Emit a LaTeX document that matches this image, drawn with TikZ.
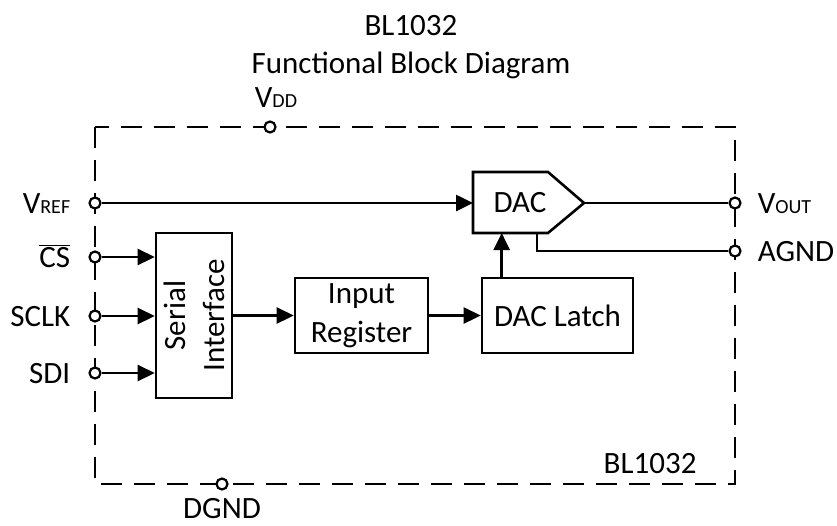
\documentclass[tikz,border=0pt]{standalone}
\usepackage{fontspec}
\setmainfont{Carlito}
\usetikzlibrary{arrows.meta, positioning}
\newcommand{\pinsub}[1]{{\fontsize{20}{20}\selectfont #1}}

\begin{document}
\begin{tikzpicture}[x=1pt, y=-1pt,
  font=\fontsize{31}{39}\selectfont,
  wire/.style={line width=2.6pt},
  arr/.style={line width=2.6pt, -{Triangle[length=17pt,width=16pt]}},
  block/.style={draw, line width=2.6pt, inner sep=0pt},
  pin/.style={draw, circle, fill=white, line width=2.2pt, minimum size=11pt, inner sep=0pt},
  pinlbl/.style={text height=20pt, text depth=0pt, inner sep=0pt}]
\useasboundingbox (0,0) rectangle (837,525);

% chip outline
\draw[line width=2.8pt, dash pattern=on 21pt off 12pt] (95,127) rectangle (735,484);

\node[anchor=base] (title) at (411,35) {BL1032};
\node[anchor=base] (subtitle) at (411,73) {Functional Block Diagram};
\node[anchor=base east] (chipname) at (700,473) {BL1032};

% blocks
\node[block, minimum width=76pt, minimum height=165pt] (serial) at (194,315.5) {};
\node[rotate=90, align=center] (serialtxt) at (serial) {Serial\\Interface};
\node[block, minimum width=133pt, minimum height=75pt, align=center] (inreg) at (361.5,315.5) {Input\\Register};
\node[block, minimum width=151pt, minimum height=75pt] (latch) at (557.5,315.5) {DAC Latch};
\draw[wire] (473,172) coordinate (dacnw) -- (548,172) -- (584,203) coordinate (dactip)
  -- (548,233) -- (473,233) coordinate (dacsw) -- cycle;
\node (dac) at (520,203) {DAC};

% pins
\node[pin] (vdd) at (270,127) {};
\node[pin] (dgnd) at (222,484) {};
\node[pin] (vref) at (95,203) {};
\node[pin] (cs) at (95,257) {};
\node[pin] (sclk) at (95,316) {};
\node[pin] (sdi) at (95,373) {};
\node[pin] (vout) at (735,203) {};
\node[pin] (agnd) at (735,251) {};

\node[pinlbl, above=13pt of vdd, xshift=6pt] (vddlbl) {V\pinsub{DD}};
\node[pinlbl, below=8pt of dgnd] (dgndlbl) {DGND};
\node[pinlbl, left=18pt of vref] (vreflbl) {V\pinsub{REF}};
\node[pinlbl, left=18pt of cs] (cslbl) {$\overline{\mbox{CS}}$};
\node[pinlbl, left=18pt of sclk] (sclklbl) {SCLK};
\node[pinlbl, left=18pt of sdi] (sdilbl) {SDI};
\node[pinlbl, right=16pt of vout] (voutlbl) {V\pinsub{OUT}};
\node[pinlbl, right=16pt of agnd] (agndlbl) {AGND};

% signals
\draw[arr] (vref) -- (vref -| dacnw);
\foreach \p in {cs, sclk, sdi}
  \draw[arr] (\p) -- (\p -| serial.west);
\draw[arr] (serial.east |- inreg) -- (inreg.west);
\draw[arr] (inreg.east) -- (latch.west);
\draw[arr] ([xshift=21pt]latch.north west) -- ([xshift=21pt]latch.north west |- dacsw);
\draw[wire] (dactip) -- (vout);
\draw[wire] ([xshift=64pt]dacsw) |- (agnd);
\end{tikzpicture}
\end{document}
